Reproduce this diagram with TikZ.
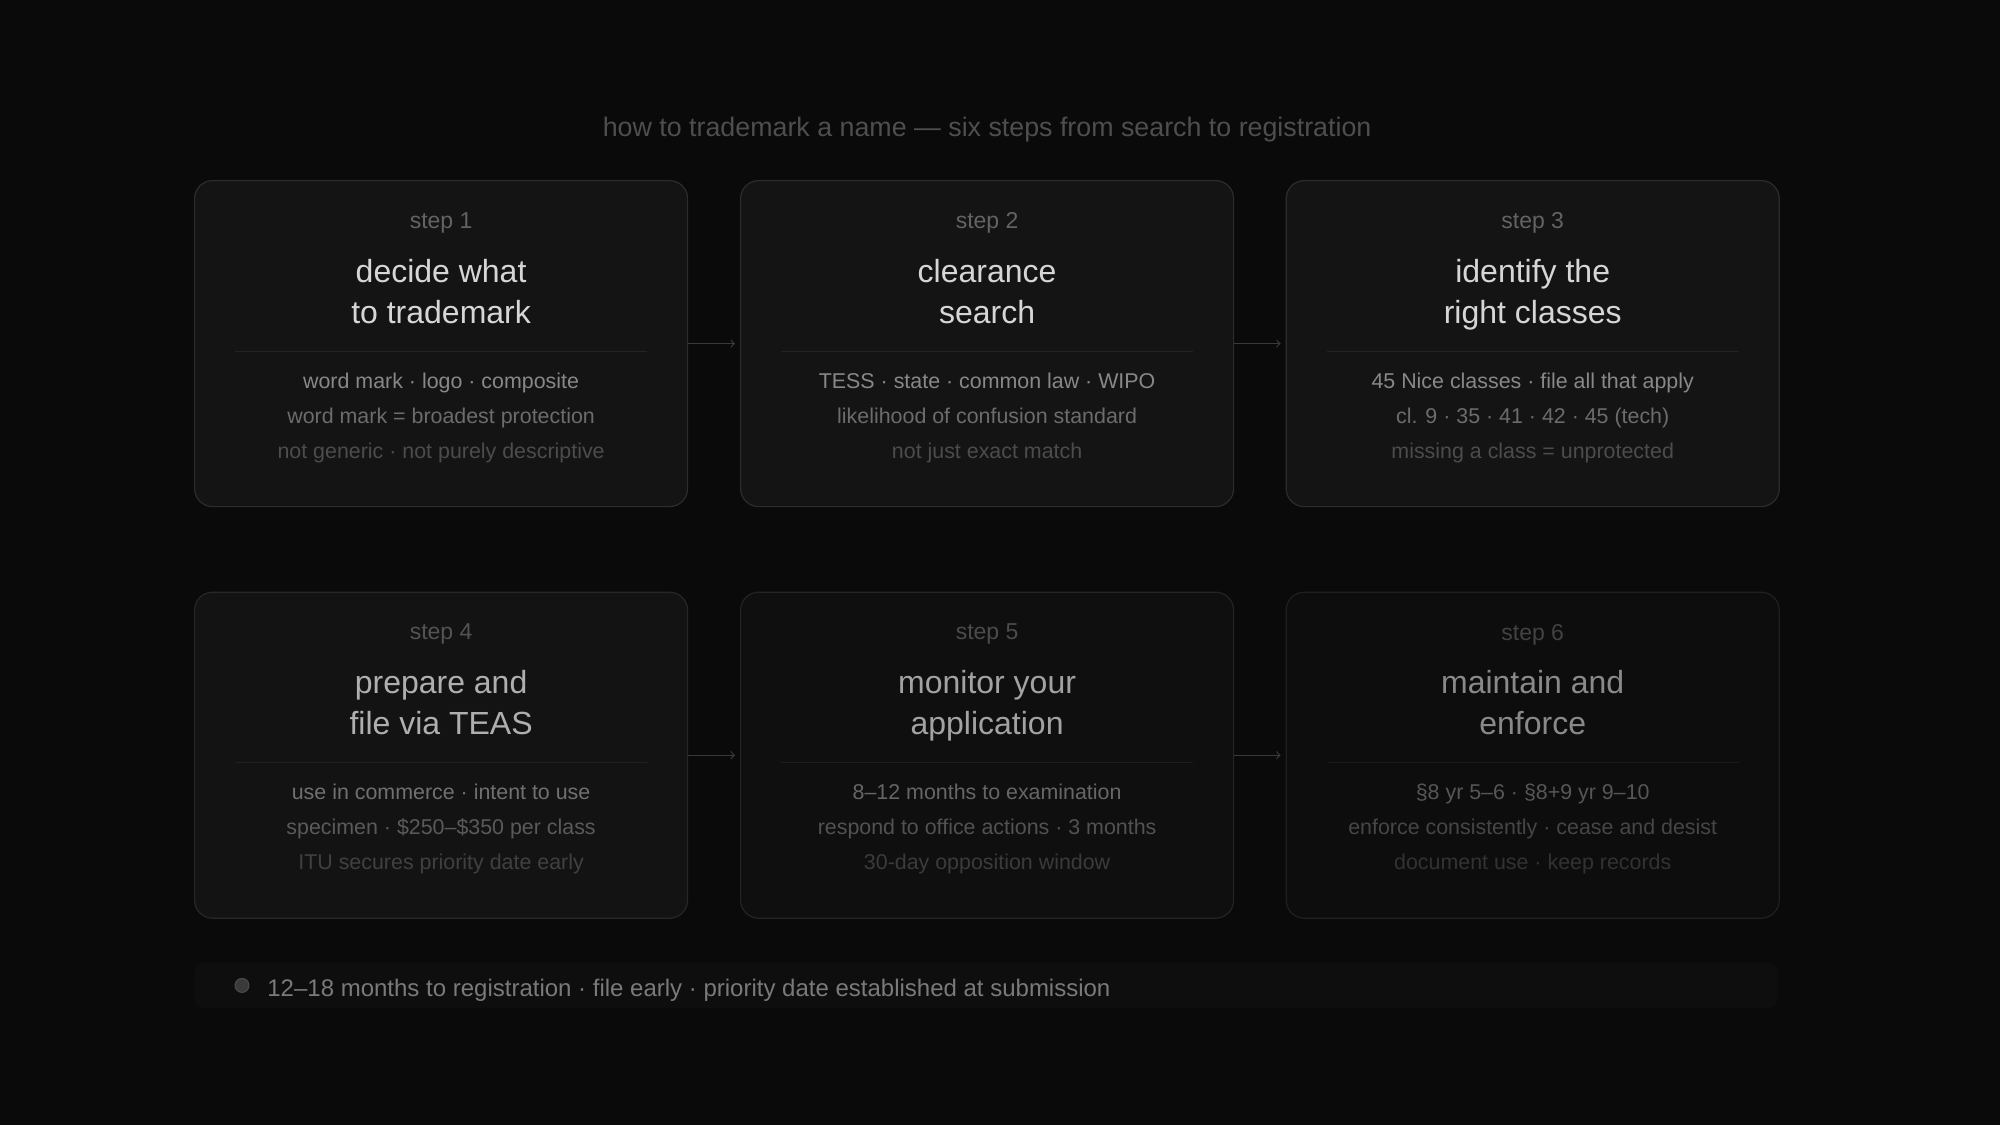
\documentclass[tikz,border=0pt]{standalone}
\usepackage{fontspec}
\setmainfont{Liberation Sans}
\usetikzlibrary{arrows,positioning}

\definecolor{bg}{HTML}{0A0A0A}
\definecolor{cardfill}{HTML}{141414}
\definecolor{cardline}{HTML}{2C2C2C}
\definecolor{headgray}{HTML}{4E4E4E}
\definecolor{stepgray}{HTML}{636363}
\definecolor{titlegray}{HTML}{D6D6D6}
\definecolor{infoa}{HTML}{888888}
\definecolor{infob}{HTML}{6C6C6C}
\definecolor{infoc}{HTML}{4C4C4C}
\definecolor{sepgray}{HTML}{242424}
\definecolor{arrowgray}{HTML}{3A3A3A}
\definecolor{footfill}{HTML}{0E0E0E}
\definecolor{footgray}{HTML}{7A7A7A}

\begin{document}
\begin{tikzpicture}[
    card/.style={draw=cardline, fill=cardfill, rounded corners=9pt, line width=0.6pt,
        minimum width=246.5pt, minimum height=163pt, inner sep=0pt},
    stepnum/.style={text=stepgray, font=\fontsize{11.5}{14}\selectfont},
    steptitle/.style={text=titlegray, align=center, font=\fontsize{16}{20.5}\selectfont},
    stepinfo/.style={align=center, font=\fontsize{10.7}{17.5}\selectfont},
    sepline/.style={draw=sepgray, line width=0.5pt},
    flow/.style={->, draw=arrowgray, line width=0.6pt, shorten >=2.5pt},
    ]
    \fill[bg] (0,0) rectangle (1000pt,-562.5pt);
    \useasboundingbox (0,0) rectangle (1000pt,-562.5pt);

    % cards
    \node[card, anchor=north west] (step1) at (97pt,-90pt) {};
    \node[card, right=25.9pt of step1] (step2) {};
    \node[card, right=25.7pt of step2] (step3) {};
    \node[card, below=42.2pt of step1, fill=cardfill!88!bg, draw=cardline!85!bg] (step4) {};
    \node[card, right=25.9pt of step4, fill=cardfill!55!bg, draw=cardline!75!bg] (step5) {};
    \node[card, right=25.7pt of step5, fill=cardfill!30!bg, draw=cardline!65!bg] (step6) {};

    \node[text=headgray, font=\fontsize{13.4}{16}\selectfont] (head)
        at ([yshift=25pt]step2.north)
        {how to trademark a name — six steps from search to registration};

    % step 1
    \node[stepnum] (step1-num) at ([yshift=-21.4pt]step1.north) {step 1};
    \node[steptitle] (step1-title) at ([yshift=-57.3pt]step1.north) {\strut decide what\\to trademark\strut};
    \draw[sepline] ([xshift=20.5pt,yshift=-85.5pt]step1.north west) -- ([xshift=-20.5pt,yshift=-85.5pt]step1.north east);
    \node[stepinfo] (step1-info) at ([yshift=-118.1pt]step1.north)
        {\strut\textcolor{infoa}{word mark · logo · composite}\\
         \textcolor{infob}{word mark = broadest protection}\\
         \textcolor{infoc}{not generic · not purely descriptive}\strut};

    % step 2
    \node[stepnum] (step2-num) at ([yshift=-21.4pt]step2.north) {step 2};
    \node[steptitle] (step2-title) at ([yshift=-57.3pt]step2.north) {\strut clearance\\search\strut};
    \draw[sepline] ([xshift=20.5pt,yshift=-85.5pt]step2.north west) -- ([xshift=-20.5pt,yshift=-85.5pt]step2.north east);
    \node[stepinfo] (step2-info) at ([yshift=-118.1pt]step2.north)
        {\strut\textcolor{infoa}{TESS · state · common law · WIPO}\\
         \textcolor{infob}{likelihood of confusion standard}\\
         \textcolor{infoc}{not just exact match}\strut};

    % step 3
    \node[stepnum] (step3-num) at ([yshift=-21.4pt]step3.north) {step 3};
    \node[steptitle] (step3-title) at ([yshift=-57.3pt]step3.north) {\strut identify the\\right classes\strut};
    \draw[sepline] ([xshift=20.5pt,yshift=-85.5pt]step3.north west) -- ([xshift=-20.5pt,yshift=-85.5pt]step3.north east);
    \node[stepinfo] (step3-info) at ([yshift=-118.1pt]step3.north)
        {\strut\textcolor{infoa}{45 Nice classes · file all that apply}\\
         \textcolor{infob}{cl. 9 · 35 · 41 · 42 · 45 (tech)}\\
         \textcolor{infoc}{missing a class = unprotected}\strut};

    % step 4
    \node[stepnum, text opacity=0.8] (step4-num) at ([yshift=-21.4pt]step4.north) {step 4};
    \node[steptitle, text opacity=0.8] (step4-title) at ([yshift=-57.3pt]step4.north) {\strut prepare and\\file via TEAS\strut};
    \draw[sepline, draw opacity=0.8] ([xshift=20.5pt,yshift=-85.5pt]step4.north west) -- ([xshift=-20.5pt,yshift=-85.5pt]step4.north east);
    \node[stepinfo, text opacity=0.8] (step4-info) at ([yshift=-118.1pt]step4.north)
        {\strut\textcolor{infoa}{use in commerce · intent to use}\\
         \textcolor{infob}{specimen · \$250–\$350 per class}\\
         \textcolor{infoc}{ITU secures priority date early}\strut};

    % step 5
    \node[stepnum, text opacity=0.72] (step5-num) at ([yshift=-21.4pt]step5.north) {step 5};
    \node[steptitle, text opacity=0.74] (step5-title) at ([yshift=-57.3pt]step5.north) {\strut monitor your\\application\strut};
    \draw[sepline, draw opacity=0.7] ([xshift=20.5pt,yshift=-85.5pt]step5.north west) -- ([xshift=-20.5pt,yshift=-85.5pt]step5.north east);
    \node[stepinfo, text opacity=0.72] (step5-info) at ([yshift=-118.1pt]step5.north)
        {\strut\textcolor{infoa}{8–12 months to examination}\\
         \textcolor{infob}{respond to office actions · 3 months}\\
         \textcolor{infoc}{30-day opposition window}\strut};

    % step 6
    \node[stepnum, text opacity=0.62] (step6-num) at ([yshift=-21.4pt]step6.north) {step 6};
    \node[steptitle, text opacity=0.62] (step6-title) at ([yshift=-57.3pt]step6.north) {\strut maintain and\\enforce\strut};
    \draw[sepline, draw opacity=0.6] ([xshift=20.5pt,yshift=-85.5pt]step6.north west) -- ([xshift=-20.5pt,yshift=-85.5pt]step6.north east);
    \node[stepinfo, text opacity=0.6] (step6-info) at ([yshift=-118.1pt]step6.north)
        {\strut\textcolor{infoa}{§8 yr 5–6 · §8+9 yr 9–10}\\
         \textcolor{infob}{enforce consistently · cease and desist}\\
         \textcolor{infoc}{document use · keep records}\strut};

    % flow
    \draw[flow] (step1) -- (step2);
    \draw[flow] (step2) -- (step3);
    \draw[flow] (step4) -- (step5);
    \draw[flow] (step5) -- (step6);

    % footer
    \node[fill=footfill, rounded corners=6pt, minimum width=792pt, minimum height=23pt,
        inner sep=0pt, anchor=north west] (foot) at (97pt,-481pt) {};
    \node[circle, fill=arrowgray, draw=infoc, line width=0.5pt, minimum size=7pt, inner sep=0pt]
        (foot-dot) at ([xshift=24pt]foot.west) {};
    \node[text=footgray, anchor=west, inner sep=0pt, font=\fontsize{12}{14}\selectfont]
        (foot-text) at ([xshift=36.5pt,yshift=-2.3pt]foot.west)
        {12–18 months to registration · file early · priority date established at submission};
\end{tikzpicture}
\end{document}
